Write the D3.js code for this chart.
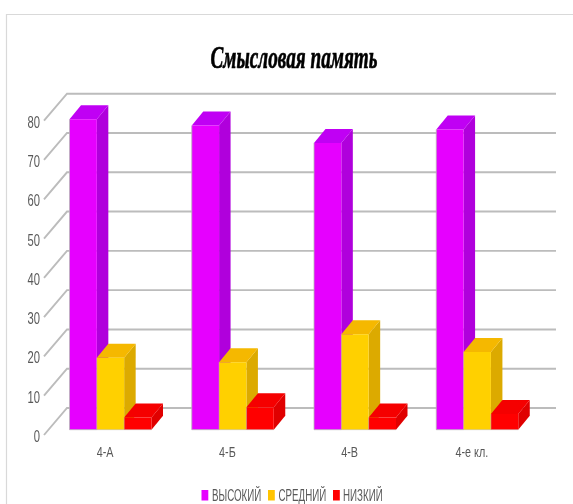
<!DOCTYPE html>
<html><head><meta charset="utf-8">
<script src="https://cdn.jsdelivr.net/npm/d3@7/dist/d3.min.js"></script>
<style>html,body{margin:0;padding:0;background:#fff}svg{display:block}</style>
</head><body><svg id="c" width="573" height="504"></svg>
<script>
const categories = ["4-А","4-Б","4-В","4-е кл."];
const seriesNames = ["ВЫСОКИЙ","СРЕДНИЙ","НИЗКИЙ"];
const high = [79,77.4,73,76.4];
const mid = [18.3,17.2,24.3,19.8];
const low = [3.1,5.7,3.1,4];
const tickValues = [0,10,20,30,40,50,60,70,80];
const title = "Смысловая память";
const front = ["#e600ff","#ffd000","#ff0000"];
const legendColors = ["#e600ff","#ffc400","#ff0000"];
const side = ["#b000dc","#dcaa00","#e00000"];
const topc = ["#c000f4","#f5b800","#f50000"];

const svg = d3.select("#c");
const labelFont = "'Liberation Sans Narrow','Liberation Sans',sans-serif";
const depthX = 23, depthY = 27;
const x0 = d3.scaleBand().domain(categories).range([44,533]);
const x1 = d3.scaleBand().domain(seriesNames).range([25.5,107.5]);
const y = d3.scaleLinear().domain([0,80]).range([435,120.7]);
const defs = svg.append("defs");
defs.append("filter").attr("id","soft").append("feGaussianBlur").attr("stdDeviation",0.4);

svg.append("path").attr("d","M6.5,504V14.5H573").attr("fill","none").attr("stroke","#d9d9d9").attr("stroke-width",1.2);

const g = svg.append("g").attr("filter","url(#soft)");
tickValues.forEach(v=>{
  g.append("path")
   .attr("d",`M${x0.range()[0]},${y(v)}L${x0.range()[0]+depthX},${y(v)-depthY}H${x0.range()[1]+depthX}`)
   .attr("fill","none").attr("stroke","#bcbcbc").attr("stroke-width",1.9);
});

const offY = 5.3, dx = 11.5, dy = 14;
const data = seriesNames.map((s,i)=>[high,mid,low][i].map((v,j)=>({s,i,v,c:categories[j]})));
categories.forEach((c,j)=>{
  data.forEach((ser,i)=>{
    const d = ser[j];
    const L = x0(c)+x1(d.s);
    const R = L+x1.bandwidth();
    const T = y(d.v)-offY, B = y(0)-offY;
    const b = g.append("g");
    b.append("path").attr("d",`M${R},${T}L${R+dx},${T-dy}V${B-dy}L${R},${B}Z`).attr("fill",side[i]);
    b.append("path").attr("d",`M${L},${T}L${L+dx},${T-dy}H${R+dx}L${R},${T}Z`).attr("fill",topc[i]);
    b.append("path").attr("d",`M${L},${T}H${R}V${B}H${L}Z`).attr("fill",front[i]);
    b.append("path").attr("d",`M${L},${T}V${B}H${R}`).attr("fill","none").attr("stroke","#b8b8b8").attr("stroke-width",i==0?0.8:0.5);
  });
});

const t = svg.append("g").attr("filter","url(#soft)");
function sq(sel,px,py,txt,sx,anchor,size){
  return sel.append("text").attr("transform",`translate(${px},${py}) scale(${sx},1)`)
    .attr("text-anchor",anchor).attr("font-family",labelFont).attr("font-size",size)
    .attr("fill","#595959").text(txt);
}
tickValues.forEach(v=>sq(t,40,y(v)+7,String(v),0.66,"end",17));
categories.forEach(c=>sq(t,x0(c)+x0.bandwidth()/2,457,c,0.72,"middle",15));
t.append("text").attr("transform","translate(294,68) scale(0.6,1)").attr("text-anchor","middle")
  .attr("font-family","'Liberation Serif',serif").attr("font-style","italic").attr("font-weight","bold")
  .attr("font-size",32).attr("fill","#000").attr("stroke","#000").attr("stroke-width",0.7).text(title);
const legX = [201.5,268,333], legTx = [212,278.5,343];
seriesNames.forEach((s,i)=>{
  svg.append("rect").attr("x",legX[i]).attr("y",490).attr("width",6.8).attr("height",10.5).attr("fill",legendColors[i]);
  sq(t,legTx[i],500.5,s,0.61,"start",16);
});
</script></body></html>
